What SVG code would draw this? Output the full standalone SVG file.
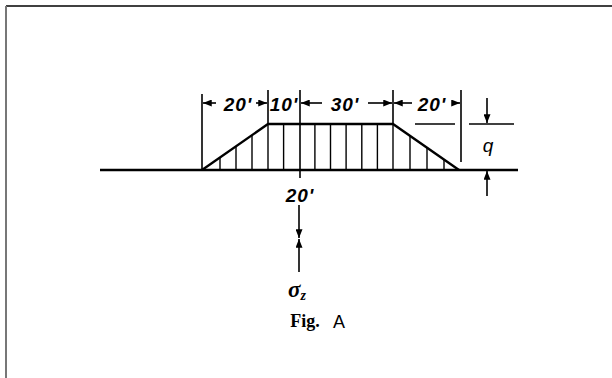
<svg xmlns="http://www.w3.org/2000/svg" width="612" height="378" viewBox="0 0 612 378">
<style>
.ln{stroke:#000;stroke-width:1.6;fill:none}
.thk{stroke:#000;stroke-width:2.4;fill:none}
.h{stroke:#000;stroke-width:1.4}
.dim{font-family:"Liberation Sans",Arial,sans-serif;font-style:italic;font-weight:bold;font-size:19px;fill:#000;text-anchor:middle;letter-spacing:1px}
.ah{fill:#000}
</style>
<defs>
<marker id="arr" viewBox="0 0 10 8" refX="10" refY="4" markerWidth="10" markerHeight="7" markerUnits="userSpaceOnUse" orient="auto">
<path d="M0,0 L10,4 L0,8 Z" class="ah"/>
</marker>
</defs>
<rect width="612" height="378" fill="#fff"/>
<g id="frame">
<line x1="6" y1="6" x2="612" y2="6" stroke="#000" stroke-width="1.5"/>
<line x1="6" y1="6" x2="6" y2="378" stroke="#777" stroke-width="2"/>
</g>
<g id="embankment">
<line class="thk" x1="100" y1="170" x2="518" y2="170"/>
<polyline class="thk" points="202,170 268,124 393,124 459,170"/>
<g class="h">
<line x1="220" y1="170" x2="220" y2="157.6"/>
<line x1="236" y1="170" x2="236" y2="146.4"/>
<line x1="252" y1="170" x2="252" y2="135.2"/>
<line x1="268" y1="170" x2="268" y2="124"/>
<line x1="283.6" y1="170" x2="283.6" y2="124"/>
<line x1="314.9" y1="170" x2="314.9" y2="124"/>
<line x1="330.5" y1="170" x2="330.5" y2="124"/>
<line x1="346.1" y1="170" x2="346.1" y2="124"/>
<line x1="361.8" y1="170" x2="361.8" y2="124"/>
<line x1="377.4" y1="170" x2="377.4" y2="124"/>
<line x1="393" y1="170" x2="393" y2="124"/>
<line x1="410" y1="170" x2="410" y2="135.7"/>
<line x1="427" y1="170" x2="427" y2="147.7"/>
<line x1="444" y1="170" x2="444" y2="159.6"/>
</g>
</g>
<g id="dimensions">
<line class="ln" x1="202" y1="94" x2="202" y2="170"/>
<line class="ln" x1="268" y1="90" x2="268" y2="124"/>
<line class="ln" x1="300" y1="90" x2="300" y2="178"/>
<line class="ln" x1="393" y1="90" x2="393" y2="124"/>
<line class="ln" x1="461" y1="90" x2="461" y2="162"/>
<line class="ln" x1="415" y1="124" x2="455" y2="124"/>
<line class="ln" x1="469" y1="124" x2="514" y2="124"/>
</g>
<g id="connectors">
<line class="ln" x1="216" y1="103" x2="203" y2="103" marker-end="url(#arr)"/>
<line class="ln" x1="256" y1="103" x2="267" y2="103" marker-end="url(#arr)"/>
<line class="ln" x1="322" y1="103" x2="301" y2="103" marker-end="url(#arr)"/>
<line class="ln" x1="368" y1="103" x2="392" y2="103" marker-end="url(#arr)"/>
<line class="ln" x1="412" y1="103" x2="394" y2="103" marker-end="url(#arr)"/>
<line class="ln" x1="452" y1="103" x2="460" y2="103" marker-end="url(#arr)"/>
<line class="ln" x1="487" y1="98" x2="487" y2="123" marker-end="url(#arr)"/>
<line class="ln" x1="487" y1="196" x2="487" y2="171" marker-end="url(#arr)"/>
<line class="ln" x1="299" y1="205" x2="299" y2="238" marker-end="url(#arr)"/>
<line class="ln" x1="299" y1="272" x2="299" y2="239" marker-end="url(#arr)"/>
</g>
<g id="labels">
<text class="dim" x="238" y="111">20'</text>
<text class="dim" x="284" y="111">10'</text>
<text class="dim" x="345" y="111">30'</text>
<text class="dim" x="432" y="111">20'</text>
<text x="488" y="152" font-family="Liberation Sans,Arial,sans-serif" font-style="italic" font-size="19" text-anchor="middle">q</text>
<text class="dim" x="300" y="202">20'</text>
<text x="297" y="297" font-family="Liberation Serif,serif" font-style="italic" font-weight="bold" font-size="23" text-anchor="middle">σ<tspan font-size="14" dy="3">z</tspan></text>
<text x="305" y="327" font-family="Liberation Serif,serif" font-weight="bold" font-size="18" text-anchor="middle">Fig.</text>
<text x="339" y="328" font-family="Liberation Sans,Arial,sans-serif" font-size="18" text-anchor="middle">A</text>
</g>
</svg>
